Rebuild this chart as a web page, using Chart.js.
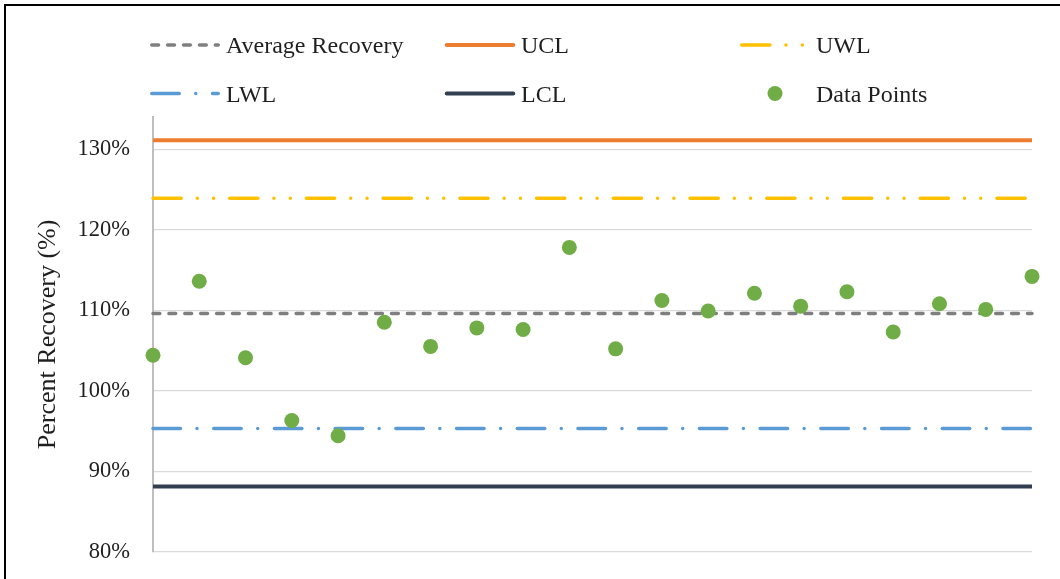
<!DOCTYPE html>
<html>
<head>
<meta charset="utf-8">
<script src="https://cdn.jsdelivr.net/npm/chart.js@4.4.1/dist/chart.umd.min.js"></script>
<style>
    html, body { margin: 0; padding: 0; background: #fff; overflow: hidden; }
    canvas { display: block; }
</style>
</head>
<body>
<canvas id="controlChart" width="1060" height="579"></canvas>
<script>
// sample numbers (x) and the measured recoveries
const samples = [1, 2, 3, 4, 5, 6, 7, 8, 9, 10, 11, 12, 13, 14, 15, 16, 17, 18, 19, 20];
const recovery = [104.4, 113.6, 104.1, 96.3, 94.4, 108.5, 105.5, 107.8, 107.6, 117.8,
                  105.2, 111.2, 109.9, 112.1, 110.5, 112.3, 107.3, 110.8, 110.1, 114.2];

// control limits
const averageRecovery = 109.6;
const ucl = 131.1;
const uwl = 123.9;
const lwl = 95.3;
const lcl = 88.1;

const yTicks = [80, 90, 100, 110, 120, 130];
const yMin = 80;
const yMax = 134;

const SERIF = '"Liberation Serif", "Times New Roman", serif';
const TEXT = '#1f1f1f';

function flatLine(value) {
    return [{ x: samples[0], y: value }, { x: samples[samples.length - 1], y: value }];
}

const seriesStyle = {
    avg:  { color: '#7f7f7f', width: 3.5, dash: [6.8, 9.1] },
    ucl:  { color: '#ed7d31', width: 4, dash: [] },
    uwl:  { color: '#ffc000', width: 3.5, dash: [28.2, 16.05, 0.01, 16.3, 0.01, 16.15] },
    lwl:  { color: '#5b9bd5', width: 3.5, dash: [27.5, 16.5, 0.01, 16.7] },
    lcl:  { color: '#333f50', width: 4, dash: [] },
    pts:  { color: '#70ad47', radius: 7.5 }
};

function lineSet(label, value, st, order) {
    return {
        type: 'line',
        label: label,
        data: flatLine(value),
        borderColor: st.color,
        borderWidth: st.width,
        borderDash: st.dash,
        borderCapStyle: st.dash.length ? 'round' : 'butt',
        pointRadius: 0,
        fill: false,
        clip: false,
        order: order
    };
}

// legend drawn as a fixed 3 x 2 grid like the original
const legendItems = [
    { label: 'Average Recovery', key: 'avg', col: 0, row: 0 },
    { label: 'UCL', key: 'ucl', col: 1, row: 0 },
    { label: 'UWL', key: 'uwl', col: 2, row: 0 },
    { label: 'LWL', key: 'lwl', col: 0, row: 1 },
    { label: 'LCL', key: 'lcl', col: 1, row: 1 },
    { label: 'Data Points', key: 'pts', col: 2, row: 1 }
];

// outer frame, only the left and top edges fall inside the picture
const frame = {
    id: 'frame',
    beforeDraw(chart) {
        const ctx = chart.ctx;
        ctx.save();
        ctx.fillStyle = '#fff';
        ctx.fillRect(0, 0, chart.width, chart.height);
        ctx.strokeStyle = '#000';
        ctx.lineWidth = 2;
        ctx.beginPath();
        ctx.moveTo(5, chart.height + 5);
        ctx.lineTo(5, 5);
        ctx.lineTo(chart.width + 5, 5);
        ctx.stroke();
        ctx.restore();
    }
};

const gridLegend = {
    id: 'gridLegend',
    afterDraw(chart) {
        const ctx = chart.ctx;
        const colX = [150, 445, 740];
        const rowY = [45, 93.5];
        const sampleLen = 70;
        ctx.save();
        legendItems.forEach(item => {
            const st = seriesStyle[item.key];
            const x = colX[item.col];
            const y = rowY[item.row];
            if (item.key === 'pts') {
                ctx.fillStyle = st.color;
                ctx.beginPath();
                ctx.arc(x + sampleLen / 2, y, st.radius, 0, Math.PI * 2);
                ctx.fill();
            } else {
                ctx.strokeStyle = st.color;
                ctx.lineWidth = st.width;
                ctx.setLineDash(st.dash);
                ctx.lineCap = 'round';
                ctx.beginPath();
                ctx.moveTo(x + 1.75, y);
                ctx.lineTo(x + sampleLen - 1.75, y);
                ctx.stroke();
                ctx.setLineDash([]);
            }
            ctx.fillStyle = TEXT;
            ctx.font = '24px ' + SERIF;
            ctx.textAlign = 'left';
            ctx.textBaseline = 'alphabetic';
            ctx.fillText(item.label, x + sampleLen + 6, y + 8.2);
        });
        ctx.restore();
    }
};

const ctx = document.getElementById('controlChart').getContext('2d');
new Chart(ctx, {
    type: 'scatter',
    data: {
        datasets: [
            {
                label: 'Data Points',
                data: samples.map((s, i) => ({ x: s, y: recovery[i] })),
                backgroundColor: seriesStyle.pts.color,
                borderWidth: 0,
                pointRadius: seriesStyle.pts.radius,
                pointHoverRadius: seriesStyle.pts.radius,
                clip: false,
                order: 0
            },
            lineSet('Average Recovery', averageRecovery, seriesStyle.avg, 1),
            lineSet('UCL', ucl, seriesStyle.ucl, 2),
            lineSet('UWL', uwl, seriesStyle.uwl, 3),
            lineSet('LWL', lwl, seriesStyle.lwl, 4),
            lineSet('LCL', lcl, seriesStyle.lcl, 5)
        ]
    },
    options: {
        responsive: false,
        animation: false,
        layout: {
            padding: { left: 0, top: 117, right: 28, bottom: 27.3 }
        },
        plugins: {
            legend: { display: false },
            tooltip: { enabled: false }
        },
        scales: {
            x: {
                type: 'linear',
                min: samples[0],
                max: samples[samples.length - 1],
                display: false
            },
            y: {
                min: yMin,
                max: yMax,
                afterFit: (scale) => {
                    scale.width = 153;
                    scale.paddingTop = 0;
                    scale.paddingBottom = 0;
                },
                afterBuildTicks: (scale) => { scale.ticks = yTicks.map(v => ({ value: v })); },
                ticks: {
                    padding: 23,
                    color: TEXT,
                    font: { family: SERIF, size: 22.5 },
                    callback: (value) => value + '%'
                },
                grid: {
                    color: '#d9d9d9',
                    lineWidth: 1.3,
                    drawTicks: false
                },
                border: {
                    color: '#bfbfbf',
                    width: 2
                },
                title: {
                    display: true,
                    text: 'Percent Recovery (%)',
                    color: TEXT,
                    font: { family: SERIF, size: 26 },
                    padding: { top: 33, bottom: 0 }
                }
            }
        }
    },
    plugins: [frame, gridLegend]
});
</script>
</body>
</html>
